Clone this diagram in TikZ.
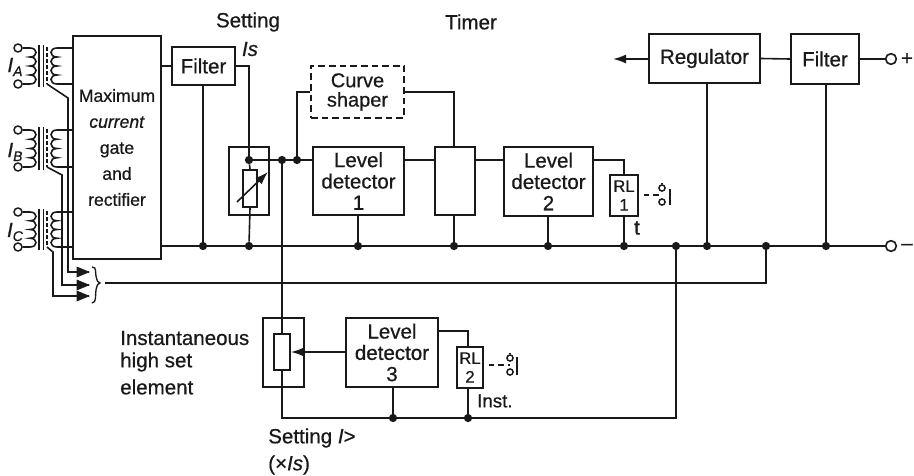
\documentclass[tikz,border=0pt]{standalone}
\usepackage{fontspec}
\setmainfont{Liberation Sans}[RawFeature={embolden=0.6}]
\usetikzlibrary{arrows.meta}
\definecolor{ink}{gray}{0.1}
\newcommand{\fs}[2]{\fontsize{#1}{#2}\selectfont}
\newcommand{\blk}[7][]{\node[block,#1,minimum width={(#5-#3)*0.75pt},minimum height={(#6-#4)*0.75pt}] (#2) at ({(#3+#5)/2},{(#4+#6)/2}) {#7};}
\newcommand{\coilR}[3]{(#1,#2) .. controls (#1+8,#2) and (#1+8,#2+#3) .. (#1,#2+#3) .. controls (#1+8,#2+#3) and (#1+8,#2+2*#3) .. (#1,#2+2*#3) .. controls (#1+8,#2+2*#3) and (#1+8,#2+3*#3) .. (#1,#2+3*#3) .. controls (#1+8,#2+3*#3) and (#1+8,#2+4*#3) .. (#1,#2+4*#3)}
\newcommand{\coilL}[3]{(#1,#2) .. controls (#1-8,#2) and (#1-8,#2+#3) .. (#1,#2+#3) .. controls (#1-8,#2+#3) and (#1-8,#2+2*#3) .. (#1,#2+2*#3) .. controls (#1-8,#2+2*#3) and (#1-8,#2+3*#3) .. (#1,#2+3*#3) .. controls (#1-8,#2+3*#3) and (#1-8,#2+4*#3) .. (#1,#2+4*#3)}
\tikzset{
  wire/.style={draw=ink,line width=1.2pt},
  block/.style={draw=ink,line width=1.3pt,inner sep=0pt,align=center,text=ink,font=\fs{15.4}{16}},
  dot/.style={circle,fill=ink,inner sep=0pt,minimum size=6.2pt},
  term/.style={circle,draw=ink,fill=white,line width=1.2pt,inner sep=0pt,minimum size=8pt},
  sterm/.style={circle,draw=ink,fill=white,line width=1.1pt,inner sep=0pt,minimum size=6pt},
  cterm/.style={circle,draw=ink,fill=white,line width=1.1pt,inner sep=0pt,minimum size=4.6pt},
  lab/.style={text=ink,inner sep=0pt,font=\fs{15.4}{16},align=left},
  tip/.style={-{Latex[length=13pt*0.75,width=9pt*0.75]}},
}
\begin{document}
\begin{tikzpicture}[x=0.75pt,y=-0.75pt]
\useasboundingbox (0,0) rectangle (914,475);
% blocks
\blk[font=\fs{13.2}{19.5}]{gate}{73}{36}{161}{259}{Maximum\\\textit{current}\\gate\\and\\rectifier}
\blk{fa}{172}{47}{235}{85}{Filter}
\blk{sa}{229}{147}{269}{215}{}
\blk{ra}{243}{170}{257}{207}{}
\blk{ld1}{313}{147}{404}{215}{Level\\detector\\1}
\blk[dashed,dash pattern=on 5pt off 3pt,font=\fs{15}{14.5}]{cs}{311}{66}{404}{118}{Curve\\shaper}
\blk{tm}{435}{147}{475}{215}{}
\blk{ld2}{504}{147}{593}{216}{Level\\detector\\2}
\blk[font=\fs{12.5}{14}]{rl1}{610}{175}{638}{216}{RL\\1}
\blk{reg}{649}{34}{760}{83}{Regulator}
\blk{fb}{791}{34}{859}{84}{Filter}
\blk{sb}{263}{318}{304}{387}{}
\blk{rb}{274}{334}{290}{370}{}
\blk{ld3}{346}{318}{438}{387}{Level\\detector\\3}
\blk[font=\fs{12.5}{14}]{rl2}{457}{347}{483}{388}{RL\\2}
% terminals and junctions
\node[term] (tp) at (891,59) {};
\node[term] (tn) at (891,246) {};
\coordinate (arrowend) at (613,59);
\foreach \n/\x/\y in {j1/203/246,j2/249/246,j3/358/246,j4/454/246,j5/548/246,j6/624/246,j7/676/246,j8/707/246,j9/766/246,j10/826/246,js/249/160,ja/282/160,jb/297/160,k1/393/418,k2/468/418}
  \node[dot] (\n) at (\x,\y) {};
\coordinate (botleft) at (282,418);
\coordinate (brtip) at (105,283);
% main connectors
\draw[wire] (gate.east |- j1) -- (j1) -- (j2) -- (j3) -- (j4) -- (j5) -- (j6) -- (j7) -- (j8) -- (j9) -- (j10) -- (tn);
\draw[wire] (fa.west) -- (gate.east |- fa.west);
\draw[wire] (fa.east) -| (js);
\draw[wire] (j1) -- (j1 |- fa.south);
\draw[wire] (js) -- (ra.north);
\draw[wire] (ra.south) -- (j2);
\draw[wire] (js) -- (ja) -- (jb) -- (ld1.west |- js);
\draw[wire] (jb) |- (cs.west);
\draw[wire] (cs.east) -| (tm.north -| j4);
\draw[wire] (ld1.east |- js) -- (tm.west |- js);
\draw[wire] (j3) -- (j3 |- ld1.south);
\draw[wire] (j4) -- (j4 |- tm.south);
\draw[wire] (j5) -- (j5 |- ld2.south);
\draw[wire] (tm.east |- js) -- (ld2.west |- js);
\draw[wire] (ld2.east |- js) -| (j6 |- rl1.north);
\draw[wire] (j6) -- (j6 |- rl1.south);
\draw[wire] (j8) -- (j8 |- reg.south);
\draw[wire] (j10) -- (j10 |- fb.south);
\draw[wire] (reg.east) -- (fb.west);
\draw[wire] (fb.east |- tp) -- (tp);
\draw[wire,tip] (reg.west |- arrowend) -- (arrowend);
\draw[wire] (ja) -- (rb.north -| ja);
\draw[wire] (rb.south -| ja) -- (botleft) -- (k1) -- (k2) -- (botleft -| j7) -- (j7);
\draw[wire] (k1) -- (k1 |- ld3.south);
\draw[wire] (k2) -- (k2 |- rl2.south);
\draw[wire] (ld3.east |- 0,331) -| (k2 |- rl2.north);
\draw[wire,tip] (ld3.west |- 0,352) -- (rb.east |- 0,352);
\draw[wire] (brtip) -- (j9 |- brtip) -- (j9);
% variable resistor slash
\draw[wire,tip] (237,202) -- (268,172);
% transformers
\foreach \nm/\yt/\yb/\tx/\ty/\ay in {A/48/84/68/98/272,B/130/167/62/175/285,C/212/247/53/252/296}{
  \node[sterm] (ta\nm) at (18,\yt) {};
  \node[sterm] (tb\nm) at (18,\yb) {};
  \pgfmathsetmacro{\st}{(\yb-\yt)/4}
  \draw[wire] (ta\nm) -- \coilR{30}{\yt}{\st} -- (tb\nm);
  \draw[wire] (39,\yt-3) -- (39,\yb+3);
  \draw[wire] (43.5,\yt-3) -- (43.5,\yb+3);
  \draw[wire,line width=1pt,dash pattern=on 3pt off 1.5pt] (47,\yt-1) -- (47,\yb);
  \draw[wire] (gate.west |- 0,\yt) -- \coilL{57}{\yt}{\st} -- (gate.west |- 0,\yb);
  \coordinate (ar\nm) at (89,\ay);
  \draw[wire] (47,\yb) -- (\tx,\ty) -- (\tx,\ay) -- (ar\nm);
  \draw[ink,fill=ink,line width=0.4pt] (77,\ay-5) -- (ar\nm) -- (77,\ay+5) -- cycle;
}
% brace
\draw[wire,line width=1pt] (92,267) .. controls (97,267) and (95,272) .. (96,276) .. controls (97,281) and (98,283) .. (100,283) .. controls (98,283) and (97,285) .. (96,290) .. controls (95,294) and (97,303) .. (92,303);
% contacts
\node[cterm] (c1t) at (662,188) {};
\node[cterm] (c1b) at (662,202) {};
\coordinate (c1s) at (662,183); \coordinate (c1a) at (670,189); \coordinate (c1c) at (670,205);
\draw[wire,line width=1pt] (c1a) -- (c1c);
\draw[wire,line width=1pt] (c1t) -- (c1s);
\draw[wire,line width=1pt,dash pattern=on 4pt off 3pt] (rl1.east |- 0,195) ++(5,0) -- (c1t |- 0,195);
\node[cterm] (c2t) at (510,358) {};
\node[cterm] (c2b) at (510,372) {};
\coordinate (c2s) at (510,353); \coordinate (c2a) at (517,357); \coordinate (c2c) at (517,375);
\draw[wire,line width=1pt] (c2a) -- (c2c);
\draw[wire,line width=1pt] (c2t) -- (c2s);
\draw[wire,line width=1pt,dash pattern=on 4pt off 3pt] (rl2.east |- 0,365) ++(5,0) -- (c2t |- 0,365);
% labels
\node[lab] (l1) at (248,22) {Setting};
\node[lab] (l2) at (250,49) {\textit{Is}};
\node[lab] (l3) at (471,22) {Timer};
\node[lab,anchor=west] (l4) at (120,338) {Instantaneous};
\node[lab,anchor=west] (l5) at (120,362) {high set};
\node[lab,anchor=west] (l6) at (120,387) {element};
\node[lab,anchor=west] (l7) at (268,438) {Setting \textit{I}>};
\node[lab,anchor=west] (l8) at (268,465) {(×\textit{Is})};
\node[lab,anchor=west,font=\fs{14}{16}] (l9) at (477,401) {Inst.};
\node[lab] (l10) at (637,228) {t};
\node[lab] (l11) at (907,59) {+};
\node[lab] (l12) at (907,247) {–};
\node[lab] (ia) at (15,67) {\textit{I}\raisebox{-3pt}{\fs{10.5}{11}\textit{A}}};
\node[lab] (ib) at (15,152) {\textit{I}\raisebox{-3pt}{\fs{10.5}{11}\textit{B}}};
\node[lab] (ic) at (15,232) {\textit{I}\raisebox{-3pt}{\fs{10.5}{11}\textit{C}}};
\end{tikzpicture}
\end{document}
